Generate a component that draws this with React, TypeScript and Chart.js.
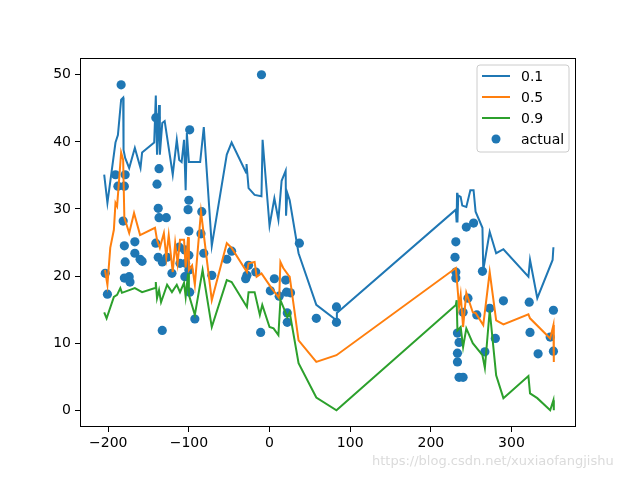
import React, { useEffect, useRef } from "react";
import { Chart, registerables } from "chart.js";

Chart.register(...registerables);

const X_TICKS = [-200, -100, 0, 100, 200, 300];
const Y_TICKS = [0, 10, 20, 30, 40, 50];

const Q10_X = [-205, -201, -191, -188, -184, -181.5, -181, -179, -174, -167, -160, -158, -143, -141, -139.5, -137, -136, -133, -130, -120, -115, -112, -109, -106, -104, -102.5, -100, -96, -86, -81.5, -71.6, -53, -47, -29, -28.5, -26, -18.5, -10, -8.6, 0, 6, 11, 15, 20, 20.5, 22, 25, 36, 58, 83, 83.5, 231, 232, 232.5, 233, 234, 237, 239, 244, 249, 253, 255.5, 264, 265, 273, 281, 290, 321, 323, 332, 351, 352];
const Q10_Y = [35.1, 30.9, 39.9, 41, 46.3, 46.6, 38.8, 37.6, 36.1, 39.1, 36.1, 38.4, 39.9, 46.9, 38.1, 45.5, 38.1, 42.8, 43.1, 35.1, 40.3, 37.3, 37, 40.3, 32.8, 41.3, 37, 37, 37, 42.2, 24.5, 38.1, 39.9, 35.4, 36.7, 33.1, 32.1, 31.9, 40.3, 27.5, 31.6, 28.4, 34.2, 35.7, 29, 32.4, 31.3, 23.4, 15.7, 13.4, 14.5, 29.9, 28, 32.4, 28, 32, 31.8, 30.5, 30.3, 32.8, 32.8, 29.6, 27.2, 20.9, 26.6, 23.4, 24, 19.9, 22.4, 16.7, 22.4, 24.3];

const Q50_X = [-204, -201, -197.5, -193, -191, -189, -184, -181.5, -180, -174, -168, -160.5, -142, -139.5, -136, -131, -128, -125, -120, -117, -114, -111, -106, -104, -101, -100, -96, -92.6, -85, -71.6, -53, -47, -28, -26, -18.5, -16, -10, 2.5, 12, 13.5, 17, 23.5, 25, 36, 58, 83, 231, 233, 235, 237, 240, 244, 252, 255.5, 265, 273, 281, 290, 321, 323, 348, 352, 352.5];
const Q50_Y = [20.9, 18.7, 24.2, 26.9, 30.9, 30.4, 38.4, 37.3, 28.7, 26.4, 29.4, 26.1, 27.2, 25.4, 24.2, 26.4, 22.8, 26.1, 20.6, 24.9, 21.9, 25.4, 25.4, 21.3, 25.8, 20.9, 21.6, 18.7, 29.6, 16.4, 24.9, 24.2, 20.6, 21.9, 22.1, 19.9, 20.4, 18.2, 16.7, 22.1, 21.2, 20.1, 19.9, 10.4, 7.2, 8.2, 21.2, 18.4, 15.4, 17.2, 12.4, 17.5, 14.6, 14.5, 12.7, 20.6, 13.4, 12.8, 14.3, 13.7, 10.7, 12.7, 7.2];

const Q90_X = [-205, -202, -193, -189, -185, -183, -167, -158, -142, -141, -139.5, -137, -134.5, -127, -121, -115, -111, -106, -104, -101, -100, -92.6, -83, -71.6, -53, -47, -28, -26, -18.5, -12, -9, 0, 5, 11, 13.5, 17, 22, 25, 36, 58, 83, 231, 232, 233, 237, 240, 244, 252, 264, 267, 273, 281, 290, 321, 323, 332, 348, 352, 352.5];
const Q90_Y = [14.6, 13.7, 16.9, 17.2, 18.2, 17.5, 18.2, 17.6, 18.2, 19.1, 16.7, 17.9, 16.1, 18.7, 17.6, 18.7, 17.6, 19, 16.9, 20.4, 17.2, 14.2, 20.9, 12.4, 19.4, 19.1, 15.4, 17.6, 17.6, 14.2, 15.7, 12.4, 12.2, 11.2, 16.4, 15.4, 13.9, 14.6, 7, 1.9, 0, 15.7, 16.4, 11.9, 12.4, 9.4, 12.2, 10, 8.2, 6.3, 14.9, 5.2, 1.8, 5.1, 2.5, 1.8, 0, 1.5, 0];

const ACTUAL_X = [-203.7, -201, -191, -179, -188, -180, -184, -181.5, -180, -179, -180, -174, -173, -167, -167, -160.5, -158, -141, -137, -139.5, -138, -137, -128, -141, -138, -133, -127, -133, -121, -112, -111, -105, -104, -105, -100, -100, -99, -101, -100, -99, -100, -92.6, -84, -85, -81.5, -71.6, -53, -47, -28, -29.6, -26, -17, -10, -11, 1, 6, 12, 20, 21, 26, 22, 22, 37, 58, 83, 83, 231, 230, 231, 231, 244, 253, 264, 246, 240, 257, 273, 233, 235, 233, 233, 267, 280, 235, 240, 290, 322, 352, 323, 348, 333, 352];
const ACTUAL_Y = [20.4, 17.3, 35.1, 35.1, 33.4, 33.4, 48.5, 28.2, 24.5, 22.1, 19.7, 19.9, 19.1, 25.1, 23.4, 22.5, 22.2, 43.6, 36, 33.7, 30.1, 28.7, 28.7, 24.9, 22.8, 22.1, 22.8, 11.9, 20.4, 24.3, 21.9, 23.9, 21.9, 19.9, 23.1, 20.9, 17.6, 29.9, 26.7, 41.8, 31.3, 13.6, 29.6, 26.3, 23.4, 20.1, 22.5, 23.7, 20.1, 19.6, 21.6, 20.6, 50, 11.6, 17.8, 19.6, 17, 19.4, 17.6, 17.5, 14.5, 13.1, 24.9, 13.7, 15.4, 13.1, 25.1, 22.8, 20.6, 19.7, 27.3, 27.9, 20.7, 16.7, 14.6, 14.2, 15.2, 11.5, 10.1, 8.5, 7.2, 8.7, 10.7, 4.9, 4.9, 16.3, 16.1, 14.9, 11.6, 10.9, 8.4, 8.8];

const LEGEND_LABELS = ["0.1", "0.5", "0.9", "actual"];
const COLORS = ["#1f77b4", "#ff7f0e", "#2ca02c", "#1f77b4"];
const WATERMARK = "https://blog.csdn.net/xuxiaofangjishu";

const FONT = '"DejaVu Sans", sans-serif';

function zip(xs: number[], ys: number[]) {
  return xs.map((x, i) => ({ x, y: ys[i] }));
}

const framePlugin = {
  id: "frameAndLegend",
  afterDraw(chart: any) {
    const { ctx, chartArea } = chart;
    const { left, top, right, bottom } = chartArea;
    ctx.save();
    ctx.strokeStyle = "#000";
    ctx.lineWidth = 1;
    ctx.strokeRect(Math.round(left) + 0.5, Math.round(top) + 0.5, Math.round(right - left) - 1, Math.round(bottom - top) - 1);

    // legend
    const bw = 92, bh = 87;
    const bx = right - 7 - bw;
    const by = top + 7;
    const r = 3;
    ctx.beginPath();
    ctx.moveTo(bx + r, by);
    ctx.lineTo(bx + bw - r, by);
    ctx.quadraticCurveTo(bx + bw, by, bx + bw, by + r);
    ctx.lineTo(bx + bw, by + bh - r);
    ctx.quadraticCurveTo(bx + bw, by + bh, bx + bw - r, by + bh);
    ctx.lineTo(bx + r, by + bh);
    ctx.quadraticCurveTo(bx, by + bh, bx, by + bh - r);
    ctx.lineTo(bx, by + r);
    ctx.quadraticCurveTo(bx, by, bx + r, by);
    ctx.closePath();
    ctx.fillStyle = "rgba(255,255,255,0.8)";
    ctx.fill();
    ctx.strokeStyle = "#cccccc";
    ctx.stroke();

    ctx.font = `14px ${FONT}`;
    ctx.textBaseline = "middle";
    ctx.textAlign = "left";
    LEGEND_LABELS.forEach((label, i) => {
      const cy = by + 11 + i * 21;
      if (i < 3) {
        ctx.strokeStyle = COLORS[i];
        ctx.lineWidth = 2;
        ctx.beginPath();
        ctx.moveTo(bx + 5, cy);
        ctx.lineTo(bx + 33, cy);
        ctx.stroke();
      } else {
        ctx.fillStyle = COLORS[i];
        ctx.beginPath();
        ctx.arc(bx + 19, cy, 4.5, 0, Math.PI * 2);
        ctx.fill();
      }
      ctx.fillStyle = "#000";
      ctx.fillText(label, bx + 44, cy + 1);
    });

    // watermark
    ctx.font = `13px ${FONT}`;
    ctx.fillStyle = "rgba(215,215,215,0.9)";
    ctx.textBaseline = "middle";
    ctx.fillText(WATERMARK, 372, 462);
    ctx.restore();
  },
};

export default function App() {
  const ref = useRef<HTMLCanvasElement>(null);
  useEffect(() => {
    if (!ref.current) return;
    const fmt = (v: any) => {
      const n = Number(v);
      return n < 0 ? "\u2212" + Math.abs(n) : String(n);
    };
    const chart = new Chart(ref.current, {
      type: "scatter",
      data: {
        datasets: [
          { label: "0.1", data: zip(Q10_X, Q10_Y), showLine: true, borderColor: COLORS[0], backgroundColor: COLORS[0], borderWidth: 2, pointRadius: 0, order: 3 } as any,
          { label: "0.5", data: zip(Q50_X, Q50_Y), showLine: true, borderColor: COLORS[1], backgroundColor: COLORS[1], borderWidth: 2, pointRadius: 0, order: 2 } as any,
          { label: "0.9", data: zip(Q90_X, Q90_Y), showLine: true, borderColor: COLORS[2], backgroundColor: COLORS[2], borderWidth: 2, pointRadius: 0, order: 1 } as any,
          { label: "actual", data: zip(ACTUAL_X, ACTUAL_Y), showLine: false, backgroundColor: COLORS[3], borderWidth: 0, pointRadius: 4.6, order: 4 } as any,
        ],
      },
      options: {
        responsive: false,
        animation: false,
        devicePixelRatio: 1,
        layout: { padding: { left: 0, right: 64, top: 58, bottom: 0 } },
        plugins: { legend: { display: false }, tooltip: { enabled: false } },
        scales: {
          x: {
            type: "linear",
            min: -235,
            max: 380,
            afterBuildTicks: (s: any) => { s.ticks = X_TICKS.map((v) => ({ value: v })); },
            afterFit: (s: any) => { s.height = 53; },
            ticks: { callback: fmt, color: "#000", font: { family: FONT, size: 14 }, padding: 3, maxRotation: 0, autoSkip: false },
            grid: { display: true, drawOnChartArea: false, drawTicks: true, tickLength: 5, color: "#000" },
            border: { display: false },
          },
          y: {
            type: "linear",
            min: -2.5,
            max: 52.5,
            afterBuildTicks: (s: any) => { s.ticks = Y_TICKS.map((v) => ({ value: v })); },
            afterFit: (s: any) => { s.width = 80; },
            ticks: { callback: fmt, color: "#000", font: { family: FONT, size: 14 }, padding: 4, autoSkip: false },
            grid: { display: true, drawOnChartArea: false, drawTicks: true, tickLength: 5, color: "#000" },
            border: { display: false },
          },
        },
      } as any,
      plugins: [framePlugin],
    });
    return () => chart.destroy();
  }, []);
  return (
    <div style={{ position: "fixed", left: 0, top: 0, width: 640, height: 480, background: "#fff" }}>
      <canvas ref={ref} width={640} height={480} style={{ display: "block" }} />
    </div>
  );
}
